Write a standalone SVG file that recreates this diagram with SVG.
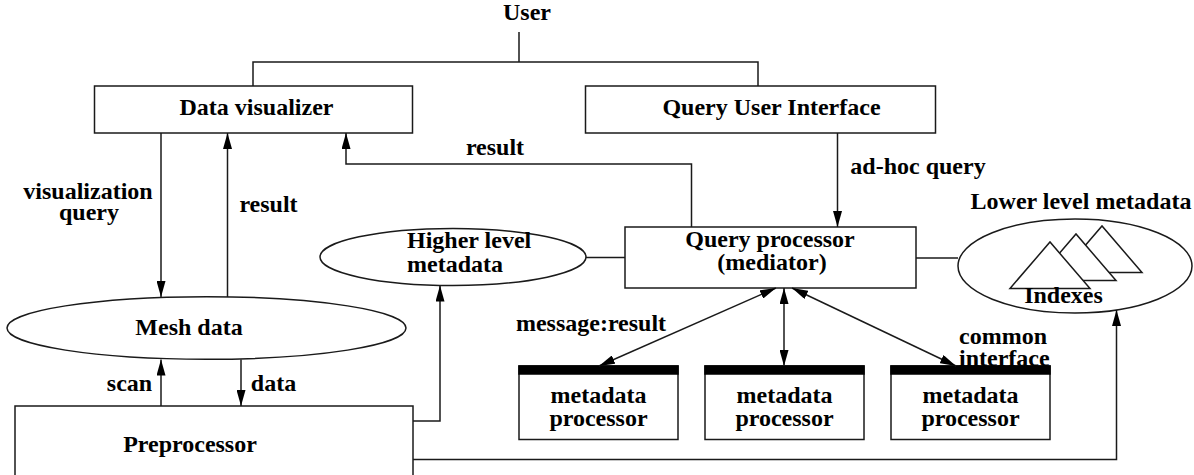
<svg xmlns="http://www.w3.org/2000/svg" width="1194" height="475" viewBox="0 0 1194 475">
<defs>
<style>
.box{fill:#fff;stroke:#1a1a1a;stroke-width:1.5}
.bar{fill:#000}
.t{font-family:"Liberation Serif","Times New Roman",serif;font-weight:bold;font-size:24px;fill:#000}
.m{text-anchor:middle}
.c{fill:none;stroke:#1a1a1a;stroke-width:1.5}
</style>
<marker id="ah" viewBox="0 0 16 9" refX="16" refY="4.5" markerWidth="16" markerHeight="9" markerUnits="userSpaceOnUse" orient="auto-start-reverse">
<path d="M0,0 L16,4.5 L0,9 z" fill="#000"/>
</marker>
</defs>
<rect width="1194" height="475" fill="#fff"/>

<g id="user"><text class="t m" x="527" y="20">User</text></g>

<g id="data-visualizer">
<rect class="box" x="94.5" y="86" width="318" height="47"/>
<text class="t m" x="256.5" y="115">Data visualizer</text>
</g>

<g id="query-ui">
<rect class="box" x="585.5" y="86" width="350" height="47"/>
<text class="t m" x="771.5" y="115">Query User Interface</text>
</g>

<g id="higher-level-metadata">
<ellipse class="box" cx="453" cy="257" rx="133" ry="28.5"/>
<text class="t" x="407" y="248">Higher level</text>
<text class="t" x="407" y="272">metadata</text>
</g>

<g id="query-processor">
<rect class="box" x="625" y="227" width="291" height="61"/>
<text class="t m" x="770" y="247">Query processor</text>
<text class="t m" x="772" y="270">(mediator)</text>
</g>

<g id="lower-level-metadata">
<text class="t m" x="1081" y="209">Lower level metadata</text>
<ellipse class="box" cx="1075" cy="266" rx="117" ry="47"/>
<polygon class="box" points="1062,272.5 1142,272.5 1102,226"/>
<polygon class="box" points="1036,280.5 1116,280.5 1076,234"/>
<polygon class="box" points="1010,288.5 1090,288.5 1050,242"/>
<text class="t m" x="1063.5" y="303">Indexes</text>
</g>

<g id="mesh-data">
<ellipse class="box" cx="206.5" cy="328" rx="199.5" ry="31.3"/>
<text class="t m" x="189" y="335">Mesh data</text>
</g>

<g id="preprocessor">
<rect class="box" x="15" y="406" width="398" height="80"/>
<text class="t m" x="190" y="452">Preprocessor</text>
</g>

<g id="metadata-processor-1">
<rect class="box" x="519" y="366" width="159" height="73.5"/>
<rect class="bar" x="518.25" y="365.25" width="160.5" height="9.5"/>
<text class="t m" x="598.5" y="403">metadata</text>
<text class="t m" x="598.5" y="426">processor</text>
</g>

<g id="metadata-processor-2">
<rect class="box" x="705" y="366" width="159" height="73.5"/>
<rect class="bar" x="704.25" y="365.25" width="160.5" height="9.5"/>
<text class="t m" x="784.5" y="403">metadata</text>
<text class="t m" x="784.5" y="426">processor</text>
</g>

<g id="metadata-processor-3">
<rect class="box" x="891" y="366" width="159" height="73.5"/>
<rect class="bar" x="890.25" y="365.25" width="160.5" height="9.5"/>
<text class="t m" x="970.5" y="403">metadata</text>
<text class="t m" x="970.5" y="426">processor</text>
</g>

<g id="connectors">
<path class="c" d="M519,32 V62 M253,86 V62 H758 V86"/>
<path class="c" d="M161,133 V297" marker-end="url(#ah)"/>
<path class="c" d="M227.5,297 V133" marker-end="url(#ah)"/>
<path class="c" d="M691.5,227 V164 H346 V133" marker-end="url(#ah)"/>
<path class="c" d="M837.5,133 V227" marker-end="url(#ah)"/>
<path class="c" d="M586,257.5 H625"/>
<path class="c" d="M916,258 H958"/>
<path class="c" d="M161,406 V359.5" marker-end="url(#ah)"/>
<path class="c" d="M241,359.5 V406" marker-end="url(#ah)"/>
<path class="c" d="M413,421 H440 V285.5" marker-end="url(#ah)"/>
<path class="c" d="M413,459.5 H1116.5 V310" marker-end="url(#ah)"/>
<path class="c" d="M776,288 L599,366" marker-start="url(#ah)" marker-end="url(#ah)"/>
<path class="c" d="M784,288 V366" marker-start="url(#ah)" marker-end="url(#ah)"/>
<path class="c" d="M792,288 L956,366" marker-start="url(#ah)" marker-end="url(#ah)"/>
<text class="t m" x="495" y="155">result</text>
<text class="t m" x="88" y="199">visualization</text>
<text class="t m" x="89" y="220">query</text>
<text class="t m" x="268.5" y="212">result</text>
<text class="t m" x="918" y="174">ad-hoc query</text>
<text class="t m" x="591" y="331">message:result</text>
<text class="t" x="959" y="344">common</text>
<text class="t" x="959" y="366">interface</text>
<text class="t m" x="129.5" y="391">scan</text>
<text class="t m" x="273.5" y="391">data</text>
</g>
</svg>
